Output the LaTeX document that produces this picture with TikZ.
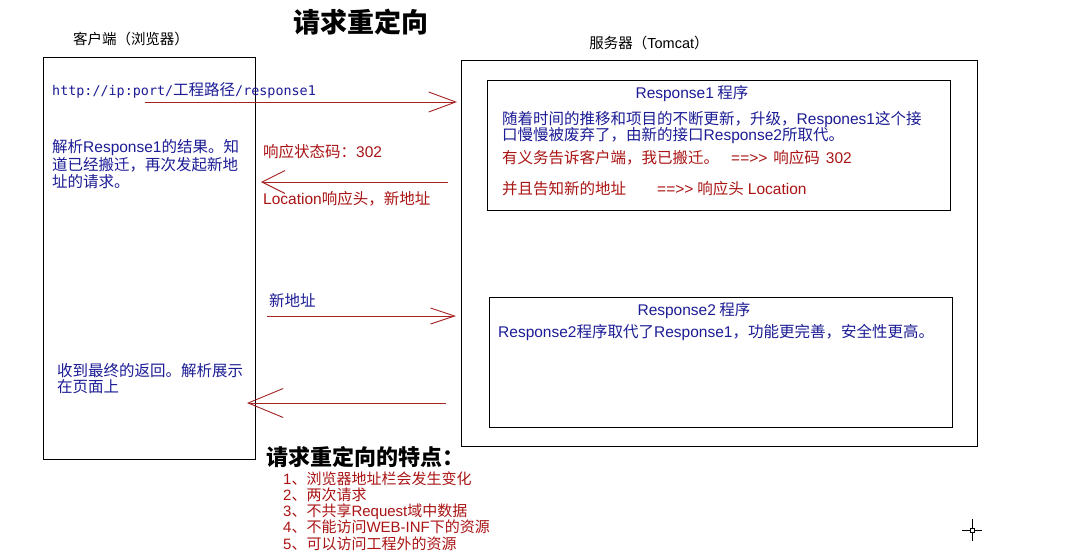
\documentclass[tikz,border=0pt]{standalone}
\usepackage{fontspec}
\setmainfont{Noto Sans CJK SC}
\newfontfamily\en{Liberation Sans}
\newfontfamily\monofam{DejaVu Sans Mono}
\usetikzlibrary{arrows.meta}
\definecolor{tblue}{RGB}{28,28,150}
\definecolor{tred}{RGB}{170,20,20}
\definecolor{ared}{RGB}{165,35,35}
\newcommand\monotxt[1]{{\monofam\fontsize{13.4}{15}\selectfont #1}}
\begin{document}
\begin{tikzpicture}[x=1pt,y=-1pt,
  box/.style={draw=black, line width=1pt, inner sep=0pt, anchor=north west},
  t/.style={inner sep=0pt, anchor=base west, font=\fontsize{15.5}{17}\selectfont},
  bt/.style={t, text=tblue},
  rt/.style={t, text=tred},
  lt/.style={t, text=tred, font=\fontsize{15}{16}\selectfont},
  arr/.style={draw=ared, line width=0.9pt}
]
\useasboundingbox (0,0) rectangle (1088,555);
\fill[white] (0,0) rectangle (1088,555);

% title
\node[inner sep=0pt, anchor=base, font=\fontsize{27}{29}\selectfont\bfseries] (title) at (361,32) {请求重定向};

% boxes
\node[box, minimum width=212pt, minimum height=402pt] (client) at (43,57) {};
\node[box, minimum width=516pt, minimum height=386pt] (server) at (461,60) {};
\node[box, minimum width=463pt, minimum height=130pt] (r1) at (487,80) {};
\node[box, minimum width=463pt, minimum height=130pt] (r2) at (489,297) {};

% headings
\node[t, anchor=base, font=\fontsize{14.5}{16}\selectfont] (clientlbl) at (131,44) {客户端（浏览器）};
\node[t, anchor=base, font=\fontsize{14.5}{16}\selectfont] (serverlbl) at (649,48) {服务器（{\en Tomcat}）};

% client texts
\node[bt] (url) at (52,95) {\monotxt{http://ip:port/}工程路径\monotxt{/response1}};
\node[bt] (c1) at (52,152) {解析{\en Response1}的结果。知};
\node[bt] (c2) at (52,170) {道已经搬迁，再次发起新地};
\node[bt] (c3) at (52,187) {址的请求。};
\node[bt] (c4) at (57,376) {收到最终的返回。解析展示};
\node[bt] (c5) at (57,392) {在页面上};

% arrow labels
\node[rt] (code) at (263,157) {响应状态码：{\en 302}};
\node[rt] (loc) at (263,204) {{\en Location}响应头，新地址};
\node[bt] (newaddr) at (269,306) {新地址};

% Response1 box
\node[bt, anchor=base] (r1title) at (692,98) {{\en Response1} 程序};
\node[bt] (r1a) at (502,124) {随着时间的推移和项目的不断更新，升级，{\en Respones1}这个接};
\node[bt] (r1b) at (502,140) {口慢慢被废弃了，由新的接口{\en Response2}所取代。};
\node[rt] (r1c) at (502,163) {有义务告诉客户端，我已搬迁。\hspace{12pt}{\en ==>>}\hspace{6pt}响应码\hspace{6pt}{\en 302}};
\node[rt] (r1d) at (502,194) {并且告知新的地址\hspace{31pt}{\en ==>>}\hspace{4pt}响应头\hspace{4pt}{\en Location}};

% Response2 box
\node[bt, anchor=base] (r2title) at (694,315) {{\en Response2} 程序};
\node[bt] (r2a) at (498,337) {{\en Response2}程序取代了{\en Response1}，功能更完善，安全性更高。};

% features
\node[inner sep=0pt, anchor=base west, font=\fontsize{22}{24}\selectfont\bfseries] (feat) at (266,465) {请求重定向的特点：};
\node[lt] (f1) at (283,484) {{\en 1}、浏览器地址栏会发生变化};
\node[lt] (f2) at (283,500) {{\en 2}、两次请求};
\node[lt] (f3) at (283,516) {{\en 3}、不共享{\en Request}域中数据};
\node[lt] (f4) at (283,532) {{\en 4}、不能访问{\en WEB-INF}下的资源};
\node[lt] (f5) at (283,549) {{\en 5}、可以访问工程外的资源};

% arrows
\coordinate (a1s) at (145,102); \coordinate (a1e) at (457,102);
\coordinate (a2s) at (448,182); \coordinate (a2e) at (261,182);
\coordinate (a3s) at (267,316); \coordinate (a3e) at (456,316);
\coordinate (a4s) at (446,403); \coordinate (a4e) at (247,403);
\draw[arr, -{Straight Barb[length=27pt,width=20pt]}] (a1s) -- (a1e);
\draw[arr, -{Straight Barb[length=23pt,width=23pt]}] (a2s) -- (a2e);
\draw[arr, -{Straight Barb[length=24pt,width=16pt]}] (a3s) -- (a3e);
\draw[arr, -{Straight Barb[length=35pt,width=29pt]}] (a4s) -- (a4e);

% cursor
\coordinate (cur) at (972,530);
\draw[line width=1pt] (962,530) -- (982,530) (972,519) -- (972,541);
\draw[line width=1pt, fill=white] (970,528) rectangle (974,532);
\end{tikzpicture}
\end{document}
